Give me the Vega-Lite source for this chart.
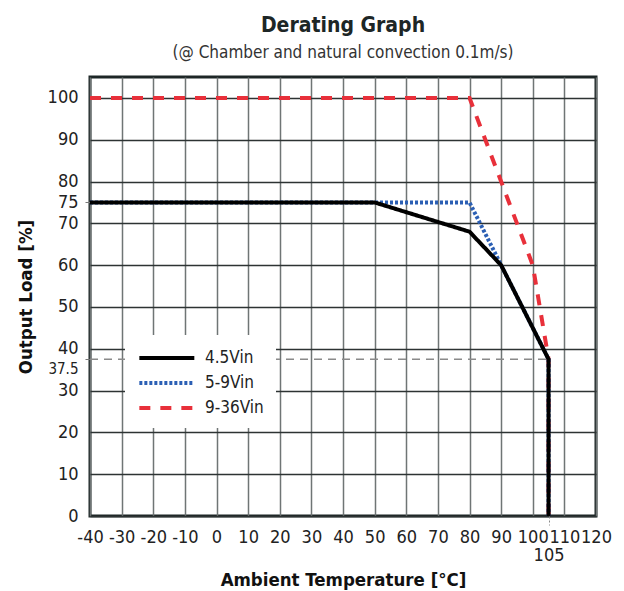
{
  "$schema": "https://vega.github.io/schema/vega-lite/v6.json",
  "width": 506,
  "height": 439,
  "autosize": {"type": "none"},
  "padding": {"left": 90, "top": 77, "right": 28, "bottom": 75},
  "background": "white",
  "config": {
    "font": "DejaVu Sans Condensed, DejaVu Sans, sans-serif",
    "view": {"stroke": "#1d2626", "strokeWidth": 3},
    "legend": {
      "orient": "none",
      "legendX": 35,
      "legendY": 258,
      "fillColor": "white",
      "padding": 12,
      "symbolType": "M -1 0 H 5.35",
      "symbolSize": 300,
      "symbolStrokeWidth": 4,
      "labelFontSize": 17,
      "labelOffset": 46,
      "labelColor": "#222222",
      "rowPadding": 6
    }
  },
  "title": {
    "text": "Derating Graph",
    "subtitle": "(@ Chamber and natural convection 0.1m/s)",
    "fontSize": 21,
    "fontWeight": "bold",
    "color": "#1d2626",
    "subtitleFontSize": 17,
    "subtitleColor": "#333333",
    "subtitlePadding": 9,
    "offset": 16,
    "anchor": "middle"
  },
  "data": {
    "values": [
      {"kind": "ref", "x": -40, "x2": 105, "y": 37.5},
      {"kind": "line", "series": "9-36Vin", "i": 0, "x": -40, "y": 100},
      {"kind": "line", "series": "9-36Vin", "i": 1, "x": 80, "y": 100},
      {"kind": "line", "series": "9-36Vin", "i": 2, "x": 100, "y": 60},
      {"kind": "line", "series": "9-36Vin", "i": 3, "x": 105, "y": 37.5},
      {"kind": "line", "series": "9-36Vin", "i": 4, "x": 105, "y": 0},
      {"kind": "line", "series": "5-9Vin", "i": 0, "x": -40, "y": 75},
      {"kind": "line", "series": "5-9Vin", "i": 1, "x": 80, "y": 75},
      {"kind": "line", "series": "5-9Vin", "i": 2, "x": 90, "y": 60},
      {"kind": "line", "series": "5-9Vin", "i": 3, "x": 105, "y": 37.5},
      {"kind": "line", "series": "5-9Vin", "i": 4, "x": 105, "y": 0},
      {"kind": "line", "series": "4.5Vin", "i": 0, "x": -40, "y": 75},
      {"kind": "line", "series": "4.5Vin", "i": 1, "x": 50, "y": 75},
      {"kind": "line", "series": "4.5Vin", "i": 2, "x": 80, "y": 68},
      {"kind": "line", "series": "4.5Vin", "i": 3, "x": 90, "y": 60},
      {"kind": "line", "series": "4.5Vin", "i": 4, "x": 105, "y": 37.5},
      {"kind": "line", "series": "4.5Vin", "i": 5, "x": 105, "y": 0}
    ]
  },
  "encoding": {
    "x": {
      "field": "x",
      "type": "quantitative",
      "scale": {"domain": [-40, 120], "nice": false, "zero": false},
      "axis": {
        "title": "Ambient Temperature [°C]",
        "titleFontSize": 18.5,
        "titleFontWeight": "bold",
        "titleColor": "#111111",
        "titlePadding": 6,
        "values": [-40, -30, -20, -10, 0, 10, 20, 30, 40, 50, 60, 70, 80, 90, 100, 105, 110, 120],
        "labelExpr": "'' + datum.value",
        "labelOverlap": false,
        "labelFlush": false,
        "labelBound": false,
        "labelFontSize": 18,
        "labelColor": "#222222",
        "labelPadding": {"condition": {"test": "datum.value == 105", "value": 21}, "value": 3},
        "domain": false,
        "grid": true,
        "gridColor": "#6f7575",
        "gridWidth": 1.5,
        "gridOpacity": {"condition": {"test": "datum.value == 105", "value": 0}, "value": 1},
        "tickSize": 9,
        "tickColor": "#888888",
        "tickDash": [2, 2],
        "tickOpacity": {"condition": {"test": "datum.value == 105", "value": 1}, "value": 0}
      }
    },
    "y": {
      "field": "y",
      "type": "quantitative",
      "scale": {"domain": [0, 105], "nice": false},
      "axis": {
        "title": "Output Load [%]",
        "titleFontSize": 18.5,
        "titleFontWeight": "bold",
        "titleColor": "#111111",
        "titlePadding": 12,
        "values": [0, 10, 20, 30, 37.5, 40, 50, 60, 70, 75, 80, 90, 100],
        "labelExpr": "'' + datum.value",
        "labelOverlap": false,
        "labelFlush": false,
        "labelBound": false,
        "labelFontSize": {"condition": {"test": "datum.value == 37.5", "value": 15}, "value": 18},
        "labelColor": "#222222",
        "labelPadding": 7,
        "labelOffset": {"condition": {"test": "datum.value == 37.5", "value": 9}, "value": 0},
        "domain": false,
        "grid": true,
        "gridColor": "#2d3333",
        "gridWidth": 1.3,
        "gridOpacity": {"condition": {"test": "datum.value == 37.5 || datum.value == 75", "value": 0}, "value": 1},
        "tickSize": 5,
        "tickColor": "#777777",
        "tickOpacity": {"condition": {"test": "datum.value == 37.5 || datum.value == 75", "value": 1}, "value": 0}
      }
    }
  },
  "layer": [
    {
      "transform": [{"filter": "datum.kind == 'ref'"}],
      "mark": {"type": "rule", "color": "#8a8a8a", "strokeDash": [8, 6], "strokeWidth": 1.5},
      "encoding": {"x2": {"field": "x2"}}
    },
    {
      "transform": [{"filter": "datum.kind == 'line'"}],
      "mark": {"type": "line", "strokeWidth": 4, "strokeCap": "butt"},
      "encoding": {
        "color": {
          "field": "series",
          "type": "nominal",
          "scale": {"domain": ["4.5Vin", "5-9Vin", "9-36Vin"], "range": ["#000000", "#2b5fb4", "#e8303a"]},
          "legend": {"title": null}
        },
        "strokeDash": {
          "field": "series",
          "type": "nominal",
          "scale": {"domain": ["4.5Vin", "5-9Vin", "9-36Vin"], "range": [[1, 0], [3, 2], [11, 10]]},
          "legend": {"title": null}
        },
        "order": {"field": "i", "type": "quantitative"}
      }
    }
  ]
}
